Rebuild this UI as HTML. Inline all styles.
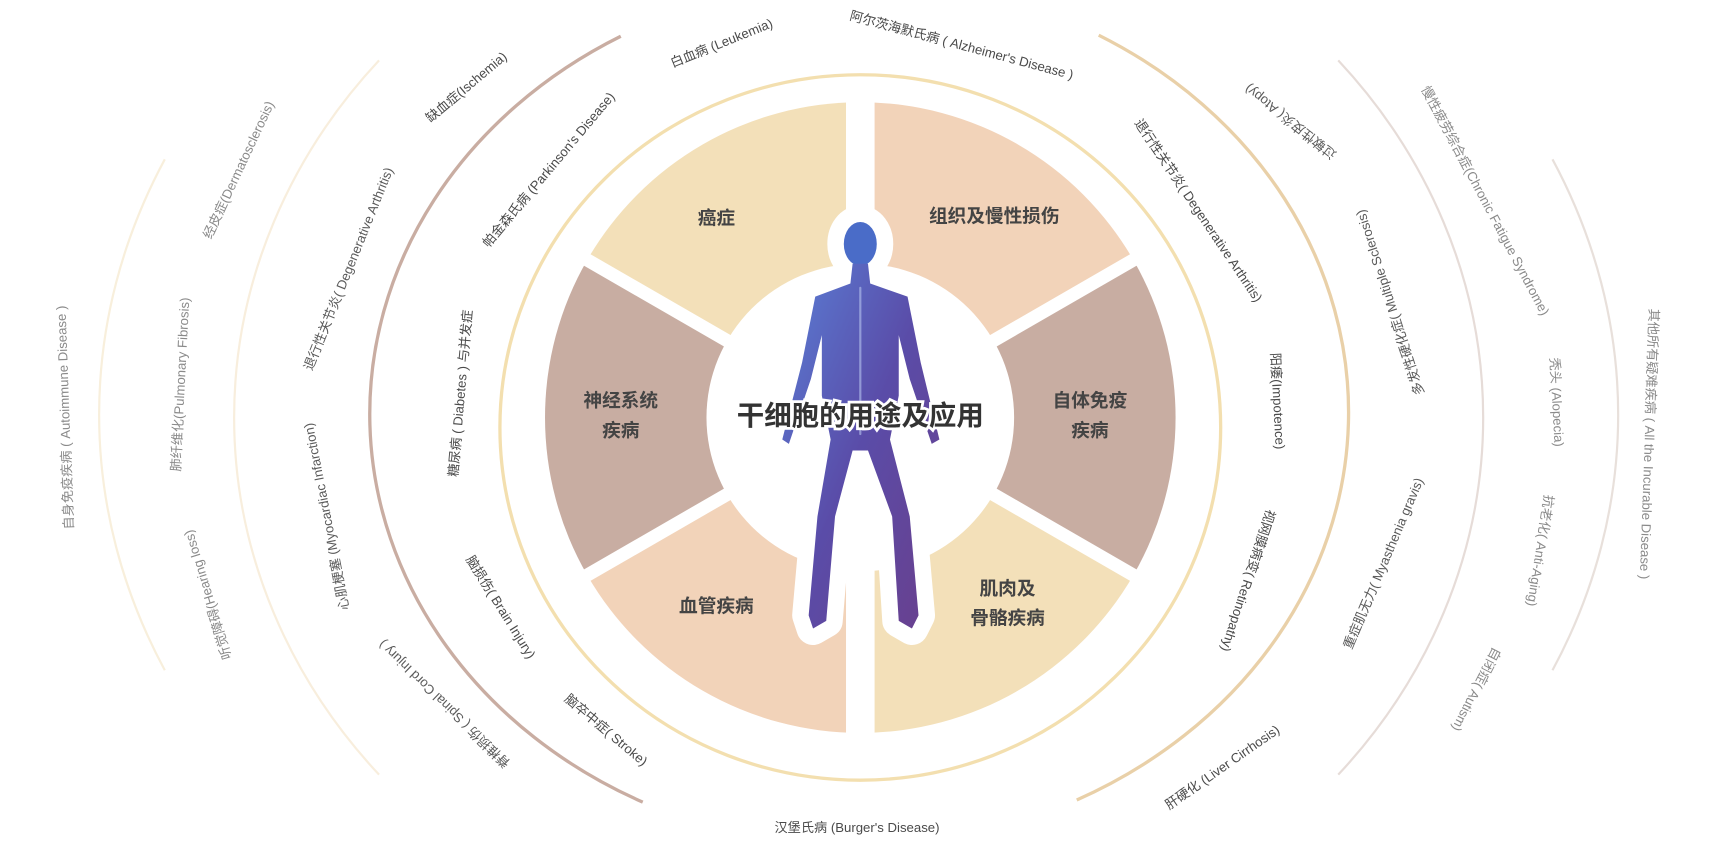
<!DOCTYPE html>
<html><head><meta charset="utf-8"><style>
html,body{margin:0;padding:0;background:#fff;}
svg{display:block}
text{font-family:"Liberation Sans","Noto Sans CJK SC",sans-serif;}
.l{font-size:12px;fill:#4a4a4a;text-anchor:middle;dominant-baseline:middle}
.m{font-size:12px;fill:#5a5a5a;text-anchor:middle;dominant-baseline:middle}
.o{font-size:12px;fill:#8a8a8a;text-anchor:middle;dominant-baseline:middle}
.s{font-size:17px;font-weight:bold;fill:#444;text-anchor:middle;dominant-baseline:middle}
</style></head><body>
<svg width="1714" height="845" viewBox="0 0 1560 769" preserveAspectRatio="none" xmlns="http://www.w3.org/2000/svg">
<defs>
<linearGradient id="bd" x1="0" y1="0" x2="1" y2="1">
<stop offset="0" stop-color="#5a7fd6"/><stop offset="0.5" stop-color="#5a4ca8"/><stop offset="1" stop-color="#6a3f8c"/>
</linearGradient>
</defs>
<!-- rings -->
<ellipse cx="783" cy="389" rx="328" ry="321" fill="none" stroke="#f3dfaf" stroke-width="3"/>
<path d="M565,33 A450,395 0 0 0 585,730" fill="none" stroke="#c9ada2" stroke-width="3"/>
<path d="M1000,32 A450,395 0 0 1 980,728" fill="none" stroke="#e9d0a8" stroke-width="3"/>
<path d="M345,55 A570,508 0 0 0 345,705" fill="none" stroke="#f8eedd" stroke-width="2"/>
<path d="M1218,55 A570,508 0 0 1 1218,705" fill="none" stroke="#e6dcd8" stroke-width="2"/>
<path d="M150,145 A695,573 0 0 0 150,610" fill="none" stroke="#f8efdc" stroke-width="2"/>
<path d="M1413,145 A695,573 0 0 1 1413,610" fill="none" stroke="#e8e0db" stroke-width="2"/>
<!-- segments -->
<g transform="translate(783,380)">
<path d="M0,0 L0,-287 A287,287 0 0 0 -248.5,-143.5 Z" fill="#f3e0b9"/>
<path d="M0,0 L248.5,-143.5 A287,287 0 0 0 0,-287 Z" fill="#f2d3b9"/>
<path d="M0,0 L248.5,143.5 A287,287 0 0 0 248.5,-143.5 Z" fill="#c8ada2"/>
<path d="M0,0 L0,287 A287,287 0 0 0 248.5,143.5 Z" fill="#f3e0b9"/>
<path d="M0,0 L-248.5,143.5 A287,287 0 0 0 0,287 Z" fill="#f2d3b9"/>
<path d="M0,0 L-248.5,-143.5 A287,287 0 0 0 -248.5,143.5 Z" fill="#c8ada2"/>
<rect x="-13" y="-288" width="26" height="576" fill="#fff"/>
<line x1="-249" y1="-143.7" x2="249" y2="143.7" stroke="#fff" stroke-width="12"/>
<line x1="-249" y1="143.7" x2="249" y2="-143.7" stroke="#fff" stroke-width="12"/>
<circle cx="0" cy="0" r="140" fill="#fff"/>
</g>
<!-- figure -->
<g stroke-linejoin="round" stroke-linecap="round">
<g stroke="#fff" stroke-width="30" fill="#fff">
<ellipse cx="783" cy="222" rx="15" ry="20"/>
<path d="M776,240 L790,240 L792,258 L826,270 L838,330 L855,400 L848,404 L828,345 L818,305 L818,360 L810,400 L828,470 L836,560 L830,572 L818,565 L812,470 L790,410 L776,410 L760,470 L752,565 L740,572 L736,560 L744,470 L756,400 L748,360 L748,305 L738,345 L718,404 L712,400 L730,330 L742,270 L774,258 Z"/>
</g>
<ellipse cx="783" cy="222" rx="15" ry="20" fill="#4a6cc8"/>
<path d="M776,240 L790,240 L792,258 L826,270 L838,330 L855,400 L848,404 L828,345 L818,305 L818,360 L810,400 L828,470 L836,560 L830,572 L818,565 L812,470 L790,410 L776,410 L760,470 L752,565 L740,572 L736,560 L744,470 L756,400 L748,360 L748,305 L738,345 L718,404 L712,400 L730,330 L742,270 L774,258 Z" fill="url(#bd)"/>
<path d="M783,262 L783,395" stroke="#b8c4ee" stroke-width="2" fill="none" opacity="0.6"/>
</g>
<!-- center title -->
<text x="783" y="380" style="font-size:25px;font-weight:bold;text-anchor:middle;dominant-baseline:middle;stroke:#fff;stroke-width:5;fill:#fff">干细胞的用途及应用</text>
<text x="783" y="380" style="font-size:25px;font-weight:bold;text-anchor:middle;dominant-baseline:middle;fill:#333">干细胞的用途及应用</text>
<!-- segment labels -->
<text class="s" x="652" y="200">癌症</text>
<text class="s" x="905" y="198">组织及慢性损伤</text>
<text class="s" x="565" y="366">神经系统</text>
<text class="s" x="565" y="393">疾病</text>
<text class="s" x="992" y="366">自体免疫</text>
<text class="s" x="992" y="393">疾病</text>
<text class="s" x="652" y="553">血管疾病</text>
<text class="s" x="917" y="537">肌肉及</text>
<text class="s" x="917" y="564">骨骼疾病</text>
<!-- ring 2 labels -->
<text class="l" transform="translate(875,42) rotate(15)">阿尔茨海默氏病 ( Alzheimer's Disease )</text>
<text class="l" transform="translate(657,40) rotate(-22)">白血病 (Leukemia)</text>
<text class="l" transform="translate(425,80) rotate(-40)">缺血症(Ischemia)</text>
<text class="l" transform="translate(500,155) rotate(-50)">帕金森氏病 (Parkinson's Disease)</text>
<text class="l" transform="translate(420,358) rotate(-85)">糖尿病 ( Diabetes ) 与并发症</text>
<text class="l" transform="translate(455,553) rotate(58)">脑损伤( Brain Injury)</text>
<text class="l" transform="translate(551,665) rotate(40)">脑卒中症( Stroke)</text>
<text class="l" transform="translate(780,754)">汉堡氏病 (Burger's Disease)</text>
<text class="l" transform="translate(1113,699) rotate(-35)">肝硬化 (Liver Cirrhosis)</text>
<text class="l" transform="translate(1135,528) rotate(108)">视网膜病变( Retinopathy)</text>
<text class="l" transform="translate(1162,365) rotate(87)">阳痿(Impotence)</text>
<text class="l" transform="translate(1090,192) rotate(56)">退行性关节炎( Degenerative Arthritis)</text>
<!-- ring 3 labels -->
<text class="m" transform="translate(318,245) rotate(-68)">退行性关节炎( Degenerative Arthritis)</text>
<text class="m" transform="translate(298,470) rotate(-101)">心肌梗塞 (Myocardiac Infarction)</text>
<text class="m" transform="translate(405,640) rotate(224)">脊椎损伤 ( Spinal Cord Injury )</text>
<text class="m" transform="translate(1175,110) rotate(218)">过敏性皮炎( Atopy)</text>
<text class="m" transform="translate(1266,275) rotate(-108)">多发性硬化症( Multiple Sclerosis)</text>
<text class="m" transform="translate(1260,513) rotate(-67)">重症肌无力( Myasthenia gravis)</text>
<!-- ring 4 labels -->
<text class="o" transform="translate(218,155) rotate(-65)">经皮症(Dermatosclerosis)</text>
<text class="o" transform="translate(165,350) rotate(-87)">肺纤维化(Pulmonary Fibrosis)</text>
<text class="o" transform="translate(190,541) rotate(-107)">听觉障碍(Hearing loss)</text>
<text class="o" transform="translate(60,380) rotate(-92)">自身免疫疾病 ( Autoimmune Disease )</text>
<text class="o" transform="translate(1351,183) rotate(62)">慢性疲劳综合症(Chronic Fatigue Syndrome)</text>
<text class="o" transform="translate(1416,366) rotate(87)">秃头 (Alopecia)</text>
<text class="o" transform="translate(1401,501) rotate(99)">抗老化( Anti-Aging)</text>
<text class="o" transform="translate(1343,627) rotate(117)">自闭症( Autism)</text>
<text class="o" transform="translate(1500,404) rotate(92)">其他所有疑难疾病 ( All the Incurable Disease )</text>
</svg>
</body></html>
